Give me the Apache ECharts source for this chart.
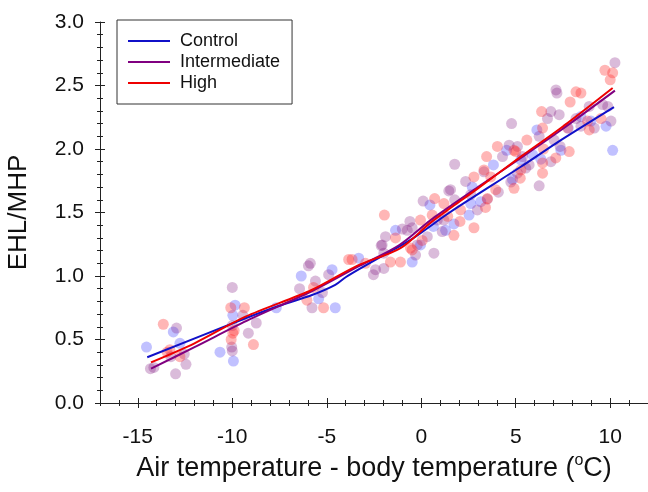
<!DOCTYPE html>
<html>
<head>
<meta charset="utf-8">
<script src="https://cdn.jsdelivr.net/npm/echarts@6/dist/echarts.min.js"></script>
<style>
html,body{margin:0;padding:0;background:#fff;}
#chart{width:648px;height:492px;}
</style>
</head>
<body>
<div id="chart"></div>
<script>
// ---- data ----
var seriesNames = ['Control', 'Intermediate', 'High'];

var controlPoints = [
  [-14.54,0.44],[-13.12,0.56],[-12.77,0.47],[-10.65,0.40],[-9.94,0.33],[-9.85,0.77],[-9.97,0.69],
  [-7.67,0.75],[-6.35,1.00],[-5.43,0.82],[-4.55,0.75],[-4.72,1.05],[-3.31,1.14],[-1.36,1.36],
  [-0.48,1.11],[-0.04,1.245],[0.46,1.56],[0.64,1.39],[1.29,1.36],[1.73,1.41],[2.53,1.48],
  [2.62,1.57],[2.70,1.70],[3.15,1.585],[3.82,1.875],[4.52,1.99],[4.83,1.76],[5.27,1.915],
  [5.89,1.955],[6.12,2.15],[6.33,1.92],[7.39,1.99],[7.78,2.165],[8.45,2.255],[8.98,2.22],
  [9.78,2.18],[10.13,1.99]
];

var intermediatePoints = [
  [-14.33,0.27],[-14.15,0.28],[-13.0,0.23],[-12.95,0.59],[-12.45,0.305],[-13.25,0.365],[-12.54,0.385],
  [-10.0,0.91],[-9.44,0.69],[-9.15,0.55],[-8.73,0.63],[-10.03,0.44],[-10.0,0.41],[-10.0,0.61],
  [-5.87,1.10],[-5.97,1.08],[-6.44,0.90],[-5.6,0.96],[-5.78,0.75],[-5.23,0.87],[-4.9,1.01],
  [-2.53,1.01],[-2.07,1.245],[-1.98,1.06],[-2.42,1.05],[-2.12,1.24],[-1.89,1.31],[-1.98,1.18],
  [-1.0,1.37],[-0.74,1.36],[-0.48,1.38],[-0.6,1.43],[-0.3,1.165],[-0.21,1.245],[0.1,1.59],
  [0.32,1.31],[0.67,1.18],[0.85,1.44],[1.11,1.35],[1.2,1.44],[1.46,1.67],[1.55,1.68],[1.77,1.88],
  [1.77,1.60],[2.35,1.745],[2.62,1.64],[2.97,1.52],[3.32,1.82],[3.5,1.605],[4.08,1.66],[4.3,1.94],
  [4.65,2.03],[4.74,1.74],[4.78,2.20],[5.09,2.02],[5.09,1.81],[5.36,1.94],[5.53,1.85],[5.71,1.875],
  [6.24,1.71],[6.24,2.10],[6.68,2.24],[6.86,2.295],[6.86,1.90],[7.03,2.07],[7.13,2.465],[7.18,2.44],
  [7.3,2.27],[7.35,2.02],[8.19,2.24],[8.45,2.18],[8.89,2.335],[9.16,2.165],[9.6,2.35],[9.87,2.335],
  [10.04,2.22],[10.25,2.68]
];

var highPoints = [
  [-13.65,0.62],[-13.3,0.42],[-13.45,0.40],[-12.77,0.365],[-10.08,0.75],[-9.36,0.75],[-10.06,0.50],
  [-9.97,0.55],[-9.9,0.57],[-8.88,0.46],[-5.7,0.91],[-6.05,0.81],[-5.17,0.75],[-3.84,1.13],
  [-3.66,1.13],[-2.95,1.10],[-1.95,1.48],[-1.63,1.11],[-1.1,1.11],[-1.36,1.30],[-0.57,1.22],
  [-0.48,1.205],[-0.04,1.44],[0.05,1.28],[0.58,1.48],[0.71,1.61],[1.2,1.57],[1.4,1.47],[1.73,1.32],
  [2.05,1.43],[2.08,1.52],[2.79,1.38],[2.79,1.78],[3.32,1.835],[3.4,1.54],[3.46,1.94],[3.5,1.61],
  [3.68,1.78],[3.94,1.68],[4.03,2.02],[4.91,1.69],[4.91,1.99],[5.0,1.98],[5.24,1.77],[5.27,1.835],
  [5.59,2.07],[6.37,2.295],[6.42,2.165],[6.42,1.89],[6.42,1.81],[6.47,2.0],[7.12,1.93],[7.83,1.98],
  [7.75,2.165],[7.88,2.37],[8.19,2.45],[8.45,2.44],[8.8,2.22],[8.89,2.15],[9.51,2.24],[9.72,2.62],
  [10.0,2.545],[10.13,2.60]
];

var controlFit = [
  [-14.5,0.36],[-9.3,0.667],[-7.55,0.764],[-5.78,0.85],[-4.55,0.93],[-4.0,0.99],[-3.1,1.07],
  [-1.8,1.18],[-0.5,1.29],[1.5,1.5],[5.27,1.86],[7.39,2.07],[10.2,2.33]
];
var intermediateFit = [
  [-14.3,0.27],[-12,0.44],[-9.06,0.66],[-5.8,0.88],[-3.4,1.07],[-1.2,1.24],[0.5,1.44],[3,1.7],
  [5.27,1.93],[7.4,2.15],[10.25,2.46]
];
var highFit = [
  [-14.3,0.32],[-12,0.47],[-9.3,0.68],[-5.8,0.89],[-3.4,1.08],[-1.1,1.22],[0.5,1.42],[3,1.69],
  [5.27,1.94],[7.39,2.165],[10.13,2.48]
];

var xMajorTicks = [-15, -10, -5, 0, 5, 10];
var xMinorTicks = [-17,-16,-14,-13,-12,-11,-9,-8,-7,-6,-4,-3,-2,-1,1,2,3,4,6,7,8,9,11,12];
var yMajorTicks = [0, 0.5, 1.0, 1.5, 2.0, 2.5, 3.0];
var yMinorTicks = [0.1,0.2,0.3,0.4,0.6,0.7,0.8,0.9,1.1,1.2,1.3,1.4,1.6,1.7,1.8,1.9,2.1,2.2,2.3,2.4,2.6,2.7,2.8,2.9];

var xRange = [-17, 12];
var yRange = [0, 3];

// ---- chart ----
var FONT = '"Liberation Sans", Arial, sans-serif';
var AX = '#222';
var lineColors = ['#1010c8', '#800080', '#ee0000'];
var pointColors = ['rgba(70,70,255,0.42)', 'rgba(128,20,128,0.36)', 'rgba(255,40,40,0.42)'];

function xAxisDef(vals, len, inside, main) {
  return {
    type: 'value', min: xRange[0], max: xRange[1], position: 'bottom', offset: 0,
    splitLine: {show: false},
    axisLine: {show: main, onZero: false, lineStyle: {color: AX, width: 1}},
    axisTick: {show: true, inside: inside, length: len, customValues: vals, lineStyle: {color: AX, width: 1}},
    axisLabel: main ? {show: true, customValues: xMajorTicks, margin: 24, fontSize: 21, color: '#111', fontFamily: FONT} : {show: false},
    name: main ? 'Air temperature - body temperature ({sup|o}C)' : '',
    nameLocation: 'middle', nameGap: 49,
    nameTextStyle: {fontSize: 27, color: '#111', fontFamily: FONT, lineHeight: 31,
      rich: {sup: {fontSize: 16, fontFamily: FONT, color: '#111', verticalAlign: 'top', lineHeight: 31, padding: [0, 0, 12, 0]}}}
  };
}
function yAxisDef(vals, len, inside, main) {
  return {
    type: 'value', min: yRange[0], max: yRange[1], position: 'left', offset: 0,
    splitLine: {show: false},
    axisLine: {show: main, onZero: false, lineStyle: {color: AX, width: 1}},
    axisTick: {show: true, inside: inside, length: len, customValues: vals, lineStyle: {color: AX, width: 1}},
    axisLabel: main ? {show: true, customValues: yMajorTicks, margin: 16, fontSize: 21, color: '#111', fontFamily: FONT,
      formatter: function (v) { return v.toFixed(1); }} : {show: false},
    name: main ? 'EHL/MHP' : '',
    nameLocation: 'middle', nameGap: 68,
    nameTextStyle: {fontSize: 26, color: '#111', fontFamily: FONT}
  };
}

var pointSets = [controlPoints, intermediatePoints, highPoints];
var fitSets = [controlFit, intermediateFit, highFit];
var series = [];
pointSets.forEach(function (d, i) {
  series.push({
    type: 'scatter', name: seriesNames[i] + ' points', data: d, symbolSize: 11,
    itemStyle: {color: pointColors[i]}, silent: true, z: 2
  });
});
fitSets.forEach(function (d, i) {
  series.push({
    type: 'line', name: seriesNames[i], data: d, showSymbol: false, smooth: 0.3,
    lineStyle: {color: lineColors[i], width: 2}, itemStyle: {color: lineColors[i]}, z: 3 + i
  });
});

var chart = echarts.init(document.getElementById('chart'), null, {renderer: 'canvas'});
chart.setOption({
  animation: false,
  backgroundColor: '#fff',
  textStyle: {fontFamily: FONT},
  grid: {left: 100, right: 0, top: 22, bottom: 89, containLabel: false, outerBoundsMode: 'none'},
  legend: {
    data: seriesNames, orient: 'vertical', left: 117, top: 20,
    padding: [12, 12, 12, 11], itemGap: 3, itemWidth: 42, itemHeight: 2, icon: 'rect',
    borderColor: '#333', borderWidth: 1, backgroundColor: '#fff',
    textStyle: {fontSize: 18, color: '#111', fontFamily: FONT, padding: [0, 0, 0, 5]}
  },
  xAxis: [
    xAxisDef(xMajorTicks, 5, false, true),
    xAxisDef(xMajorTicks, 5, true, false),
    xAxisDef(xMinorTicks, 3, false, false),
    xAxisDef(xMinorTicks, 3, true, false)
  ],
  yAxis: [
    yAxisDef(yMajorTicks, 5, false, true),
    yAxisDef(yMajorTicks, 5, true, false),
    yAxisDef(yMinorTicks, 3, false, false),
    yAxisDef(yMinorTicks, 3, true, false)
  ],
  series: series
});
</script>
</body>
</html>
